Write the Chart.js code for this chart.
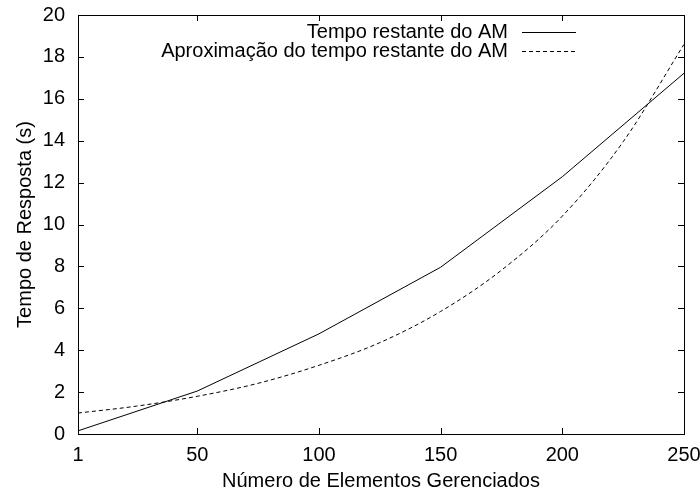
<!DOCTYPE html>
<html>
<head>
<meta charset="utf-8">
<script src="https://cdn.jsdelivr.net/npm/chart.js@4/dist/chart.umd.min.js"></script>
<style>
  html, body { margin: 0; padding: 0; background: #fff; }
  #wrap { width: 700px; height: 495px; }
</style>
</head>
<body>
<div id="wrap"><canvas id="chart"></canvas></div>
<script>
// data
const measuredX = [1, 50, 100, 150, 200, 250];
const measuredY = [0.15, 2.05, 4.78, 7.96, 12.28, 17.22];

const fitX = [1, 25, 50, 75, 100, 125, 150, 175, 200, 225, 250];
const fitY = [1.0, 1.33, 1.8, 2.42, 3.28, 4.36, 5.85, 7.82, 10.4, 13.95, 18.6];

const xTicks = [1, 50, 100, 150, 200, 250];
const yTicks = [0, 2, 4, 6, 8, 10, 12, 14, 16, 18, 20];

const labels = ["Tempo restante do AM", "Aproximação do tempo restante do AM"];

const FONT = "'Liberation Sans', Arial, Helvetica, sans-serif";

// gnuplot-ish frame: box + inward ticks on all four sides, legend top right
const framePlugin = {
  id: "frame",
  afterDatasetsDraw(chart) {
    const { ctx, chartArea: a, scales } = chart;
    const tl = 6;
    ctx.save();
    ctx.strokeStyle = "#000";
    ctx.lineWidth = 1;
    ctx.strokeRect(Math.round(a.left) + 0.5, Math.round(a.top) + 0.5,
      Math.round(a.right - a.left), Math.round(a.bottom - a.top));
    ctx.beginPath();
    xTicks.forEach((v) => {
      const px = Math.round(scales.x.getPixelForValue(v)) + 0.5;
      ctx.moveTo(px, a.bottom); ctx.lineTo(px, a.bottom - tl);
      ctx.moveTo(px, a.top); ctx.lineTo(px, a.top + tl);
    });
    yTicks.forEach((v) => {
      const py = Math.round(scales.y.getPixelForValue(v)) + 0.5;
      ctx.moveTo(a.left, py); ctx.lineTo(a.left + tl, py);
      ctx.moveTo(a.right, py); ctx.lineTo(a.right - tl, py);
    });
    ctx.stroke();

    // legend
    ctx.font = "20px " + FONT;
    ctx.fillStyle = "#000";
    ctx.textAlign = "right";
    ctx.textBaseline = "middle";
    const rows = [32, 51];
    chart.data.datasets.forEach((ds, i) => {
      const y = rows[i];
      ctx.fillText(ds.label, 508, y);
      ctx.beginPath();
      ctx.setLineDash(ds.borderDash || []);
      ctx.strokeStyle = ds.borderColor;
      ctx.lineWidth = ds.borderWidth;
      ctx.moveTo(522, y + 0.5);
      ctx.lineTo(576, y + 0.5);
      ctx.stroke();
    });
    ctx.restore();
  },
};

new Chart(document.getElementById("chart"), {
  type: "line",
  data: {
    datasets: [
      {
        label: labels[0],
        data: measuredX.map((x, i) => ({ x, y: measuredY[i] })),
        borderColor: "#000",
        borderWidth: 1,
        pointRadius: 0,
        tension: 0,
      },
      {
        label: labels[1],
        data: fitX.map((x, i) => ({ x, y: fitY[i] })),
        borderColor: "#000",
        borderWidth: 1,
        borderDash: [4, 3],
        pointRadius: 0,
        cubicInterpolationMode: "monotone",
      },
    ],
  },
  options: {
    responsive: true,
    maintainAspectRatio: false,
    animation: false,
    layout: { padding: { left: 0, right: 16, top: 15, bottom: 0 } },
    plugins: {
      legend: { display: false },
      tooltip: { enabled: false },
    },
    scales: {
      x: {
        type: "linear",
        min: 1,
        max: 250,
        afterBuildTicks: (s) => { s.ticks = xTicks.map((v) => ({ value: v })); },
        afterFit: (s) => { s.height = 61; s.paddingLeft = 0; s.paddingRight = 0; },
        grid: { display: false, drawTicks: false },
        border: { display: false },
        ticks: { color: "#000", font: { family: FONT, size: 20 }, padding: 9, maxRotation: 0 },
        title: {
          display: true,
          text: "Número de Elementos Gerenciados",
          color: "#000",
          font: { family: FONT, size: 20 },
          padding: { top: 0, bottom: 2 },
        },
      },
      y: {
        min: 0,
        max: 20,
        afterBuildTicks: (s) => { s.ticks = yTicks.map((v) => ({ value: v })); },
        afterFit: (s) => { s.width = 78; s.paddingTop = 0; s.paddingBottom = 0; },
        grid: { display: false, drawTicks: false },
        border: { display: false },
        ticks: { color: "#000", font: { family: FONT, size: 20 }, padding: 13 },
        title: {
          display: true,
          text: "Tempo de Resposta (s)",
          color: "#000",
          font: { family: FONT, size: 20 },
          padding: { top: 13, bottom: 0 },
        },
      },
    },
  },
  plugins: [framePlugin],
});
</script>
</body>
</html>
